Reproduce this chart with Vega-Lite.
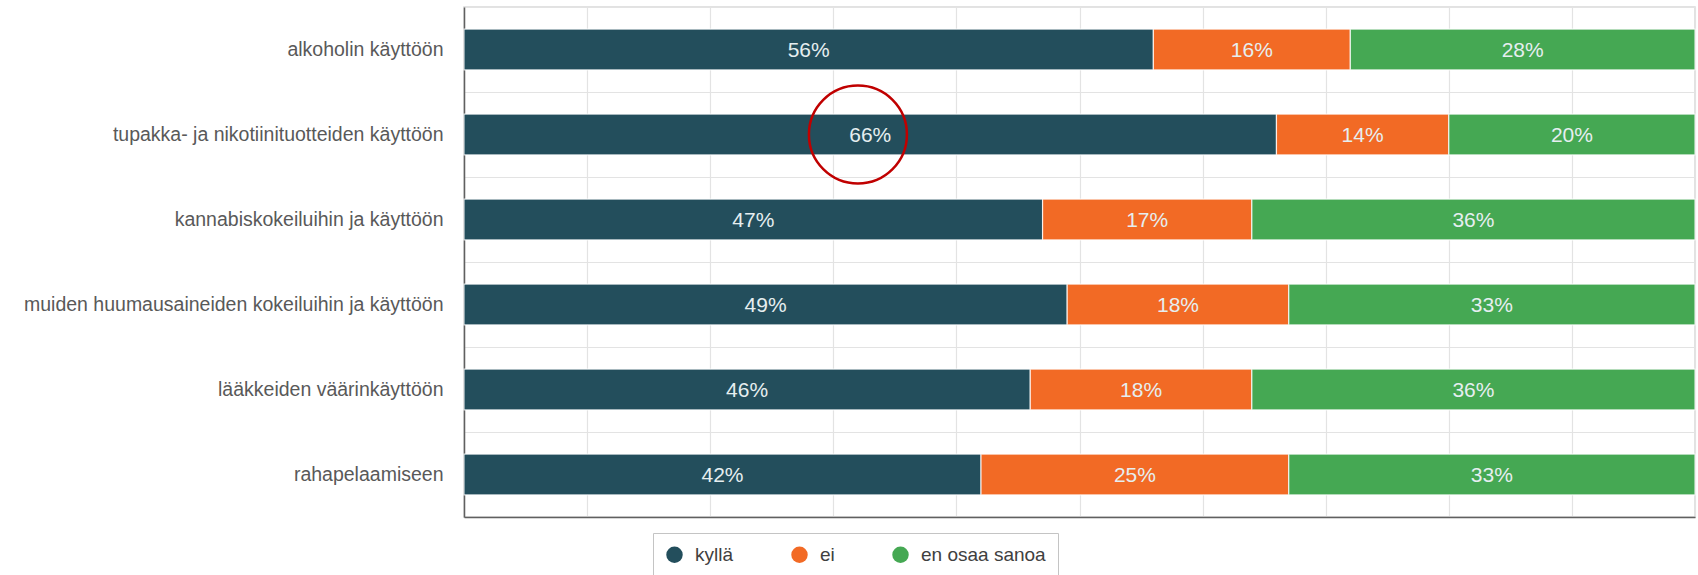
{
  "$schema": "https://vega.github.io/schema/vega-lite/v6.json",
  "width": 1231,
  "height": 510,
  "autosize": {"type": "none"},
  "padding": {"left": 464, "top": 7, "right": 3, "bottom": 58},
  "background": "white",
  "config": {
    "view": {"stroke": "#d9d9d9", "strokeWidth": 1.5},
    "font": "Liberation Sans"
  },
  "datasets": {
    "survey": [
      {"category": "alkoholin käyttöön", "answer": "kyllä", "j": 1, "pct": 0.56},
      {"category": "alkoholin käyttöön", "answer": "ei", "j": 2, "pct": 0.16},
      {"category": "alkoholin käyttöön", "answer": "en osaa sanoa", "j": 3, "pct": 0.28},
      {"category": "tupakka- ja nikotiinituotteiden käyttöön", "answer": "kyllä", "j": 1, "pct": 0.66},
      {"category": "tupakka- ja nikotiinituotteiden käyttöön", "answer": "ei", "j": 2, "pct": 0.14},
      {"category": "tupakka- ja nikotiinituotteiden käyttöön", "answer": "en osaa sanoa", "j": 3, "pct": 0.20},
      {"category": "kannabiskokeiluihin ja käyttöön", "answer": "kyllä", "j": 1, "pct": 0.47},
      {"category": "kannabiskokeiluihin ja käyttöön", "answer": "ei", "j": 2, "pct": 0.17},
      {"category": "kannabiskokeiluihin ja käyttöön", "answer": "en osaa sanoa", "j": 3, "pct": 0.36},
      {"category": "muiden huumausaineiden kokeiluihin ja käyttöön", "answer": "kyllä", "j": 1, "pct": 0.49},
      {"category": "muiden huumausaineiden kokeiluihin ja käyttöön", "answer": "ei", "j": 2, "pct": 0.18},
      {"category": "muiden huumausaineiden kokeiluihin ja käyttöön", "answer": "en osaa sanoa", "j": 3, "pct": 0.33},
      {"category": "lääkkeiden väärinkäyttöön", "answer": "kyllä", "j": 1, "pct": 0.46},
      {"category": "lääkkeiden väärinkäyttöön", "answer": "ei", "j": 2, "pct": 0.18},
      {"category": "lääkkeiden väärinkäyttöön", "answer": "en osaa sanoa", "j": 3, "pct": 0.36},
      {"category": "rahapelaamiseen", "answer": "kyllä", "j": 1, "pct": 0.42},
      {"category": "rahapelaamiseen", "answer": "ei", "j": 2, "pct": 0.25},
      {"category": "rahapelaamiseen", "answer": "en osaa sanoa", "j": 3, "pct": 0.33}
    ],
    "note": [
      {"category": "tupakka- ja nikotiinituotteiden käyttöön", "x": 0.32}
    ]
  },
  "layer": [
    {
      "data": {"name": "survey"},
      "mark": {"type": "bar", "height": {"band": 0.48}, "stroke": "white", "strokeWidth": 1.2, "strokeOpacity": 0.8},
      "encoding": {
        "y": {
          "field": "category", "type": "nominal", "sort": null,
          "scale": {"padding": 0},
          "axis": {
            "title": null, "ticks": false, "tickBand": "extent",
            "grid": true, "gridColor": "#e3e3e3", "gridWidth": 1.2,
            "domain": true, "domainColor": "#606060", "domainWidth": 1.5,
            "labelFont": "Liberation Sans", "labelFontSize": 19.5, "labelColor": "#595959",
            "labelPadding": 21, "labelLimit": 460
          }
        },
        "x": {
          "field": "pct", "type": "quantitative", "stack": "zero",
          "scale": {"domain": [0, 1], "nice": false},
          "axis": {
            "title": null, "labels": false, "ticks": false,
            "values": [0, 0.1, 0.2, 0.3, 0.4, 0.5, 0.6, 0.7, 0.8, 0.9, 1],
            "grid": true, "gridColor": "#e3e3e3", "gridWidth": 1.2,
            "domain": true, "domainColor": "#606060", "domainWidth": 1.5
          }
        },
        "order": {"field": "j", "type": "quantitative"},
        "color": {
          "field": "answer", "type": "nominal",
          "scale": {"domain": ["kyllä", "ei", "en osaa sanoa"], "range": ["#234E5C", "#F26A25", "#45A853"]},
          "legend": {
            "title": null, "orient": "none", "legendX": 189, "legendY": 526,
            "direction": "horizontal",
            "symbolType": "circle", "symbolSize": 270, "symbolStrokeWidth": 0,
            "labelFont": "Liberation Sans", "labelFontSize": 19, "labelColor": "#404040",
            "labelOffset": 11, "columnPadding": 56,
            "strokeColor": "#c4c4c4", "fillColor": "white", "padding": 12
          }
        }
      }
    },
    {
      "data": {"name": "survey"},
      "transform": [
        {"stack": "pct", "groupby": ["category"], "sort": [{"field": "j", "order": "ascending"}], "as": ["x0", "x1"]},
        {"fold": ["x0", "x1"], "as": ["edge", "pos"]},
        {"aggregate": [{"op": "mean", "field": "pos", "as": "mid"}], "groupby": ["category", "answer", "pct"]}
      ],
      "mark": {"type": "text", "font": "Liberation Sans", "fontSize": 21, "color": "#e6eef0", "align": "center", "baseline": "middle", "dy": 1}, 
      "encoding": {
        "y": {"field": "category", "type": "nominal", "sort": null},
        "x": {"field": "mid", "type": "quantitative"},
        "text": {"field": "pct", "type": "quantitative", "format": ".0%"}
      }
    },
    {
      "data": {"name": "note"},
      "mark": {"type": "point", "shape": "circle", "size": 9604, "filled": false, "stroke": "#c00000", "strokeWidth": 2.5, "opacity": 1},
      "encoding": {
        "y": {"field": "category", "type": "nominal", "sort": null},
        "x": {"field": "x", "type": "quantitative"}
      }
    }
  ]
}
